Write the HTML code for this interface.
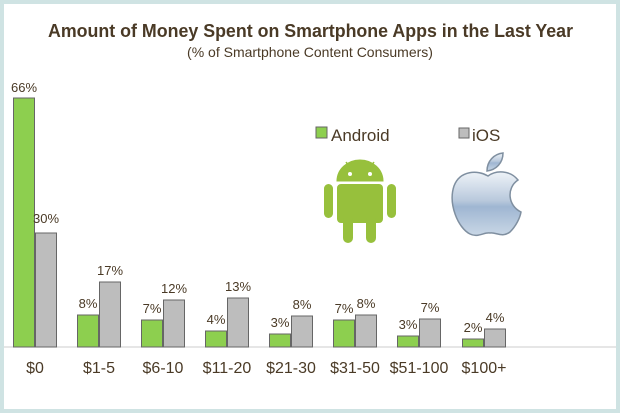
<!DOCTYPE html>
<html><head><style>
body{margin:0;background:#cfe3e3;}
svg{display:block}
text{font-family:"Liberation Sans",sans-serif;fill:#4a3a26}
</style></head><body>
<svg width="620" height="413" viewBox="0 0 620 413" xmlns="http://www.w3.org/2000/svg">
<defs>
<linearGradient id="ap" x1="0" y1="0" x2="0" y2="1">
<stop offset="0" stop-color="#eef3f8"/><stop offset="0.45" stop-color="#b9c9dc"/><stop offset="0.55" stop-color="#9fb6d2"/><stop offset="1" stop-color="#c9d7e6"/>
</linearGradient>
</defs>
<rect x="0" y="0" width="620" height="413" fill="#cfe3e3"/>
<rect x="4" y="4" width="612" height="405" fill="#fff"/>
<text x="48" y="37" font-size="18" font-weight="bold" textLength="525" lengthAdjust="spacingAndGlyphs">Amount of Money Spent on Smartphone Apps in the Last Year</text>
<text x="310" y="57" font-size="14" text-anchor="middle">(% of Smartphone Content Consumers)</text>
<line x1="4" y1="347" x2="616" y2="347" stroke="#ccc" stroke-width="1"/>
<g stroke="#666" stroke-width="1">
<rect x="13.5" y="98" width="21" height="249" fill="#8dcf4f"/><rect x="35.5" y="233" width="21" height="114" fill="#bdbdbd"/>
<rect x="77.5" y="315" width="21" height="32" fill="#8dcf4f"/><rect x="99.5" y="282" width="21" height="65" fill="#bdbdbd"/>
<rect x="141.5" y="320" width="21" height="27" fill="#8dcf4f"/><rect x="163.5" y="300" width="21" height="47" fill="#bdbdbd"/>
<rect x="205.5" y="331" width="21" height="16" fill="#8dcf4f"/><rect x="227.5" y="298" width="21" height="49" fill="#bdbdbd"/>
<rect x="269.5" y="334" width="21" height="13" fill="#8dcf4f"/><rect x="291.5" y="316" width="21" height="31" fill="#bdbdbd"/>
<rect x="333.5" y="320" width="21" height="27" fill="#8dcf4f"/><rect x="355.5" y="315" width="21" height="32" fill="#bdbdbd"/>
<rect x="397.5" y="336" width="21" height="11" fill="#8dcf4f"/><rect x="419.5" y="319" width="21" height="28" fill="#bdbdbd"/>
<rect x="462.5" y="339" width="21" height="8" fill="#8dcf4f"/><rect x="484.5" y="329" width="21" height="18" fill="#bdbdbd"/>
</g>
<g font-size="13" text-anchor="middle">
<text x="24" y="92">66%</text><text x="46" y="223">30%</text>
<text x="88" y="308">8%</text><text x="110" y="275">17%</text>
<text x="152" y="313">7%</text><text x="174" y="293">12%</text>
<text x="216" y="324">4%</text><text x="238" y="291">13%</text>
<text x="280" y="327">3%</text><text x="302" y="309">8%</text>
<text x="344" y="313">7%</text><text x="366" y="308">8%</text>
<text x="408" y="329">3%</text><text x="430" y="312">7%</text>
<text x="473" y="332">2%</text><text x="495" y="322">4%</text>
</g>
<g font-size="16" text-anchor="middle">
<text x="35" y="373">$0</text><text x="99" y="373">$1-5</text><text x="163" y="373">$6-10</text><text x="227" y="373">$11-20</text>
<text x="291" y="373">$21-30</text><text x="355" y="373">$31-50</text><text x="419" y="373">$51-100</text><text x="484" y="373">$100+</text>
</g>
<rect x="316" y="127" width="11" height="11" fill="#8dcf4f" stroke="#666"/>
<text x="331" y="141" font-size="17">Android</text>
<rect x="459" y="128" width="10" height="10" fill="#bdbdbd" stroke="#666"/>
<text x="472" y="141" font-size="17">iOS</text>
<g fill="#97c03c" stroke="#97c03c">
<path d="M337 181 A23 21 0 0 1 383 181 Z"/>
<line x1="346" y1="162" x2="351" y2="169" stroke-width="1.5"/><line x1="374" y1="162" x2="369" y2="169" stroke-width="1.5"/>
<rect x="337" y="184" width="46" height="39" rx="4" stroke="none"/>
<rect x="324" y="184" width="9" height="34" rx="4.5" stroke="none"/><rect x="387" y="184" width="9" height="34" rx="4.5" stroke="none"/>
<rect x="343" y="215" width="10" height="28" rx="5" stroke="none"/><rect x="366" y="215" width="10" height="28" rx="5" stroke="none"/>
</g>
<circle cx="350" cy="174" r="2" fill="#fff"/><circle cx="370" cy="174" r="2" fill="#fff"/>
<path d="M488 176 C478 170 460 170 454 186 C448 204 458 228 470 234 C478 238 484 232 490 233 C496 232 502 238 510 232 C516 226 520 218 521 212 C508 206 506 188 518 180 C510 170 496 170 488 176 Z" fill="url(#ap)" stroke="#7f8fa0" stroke-width="1.5"/>
<path d="M487 171 C487 161 494 154 503 153 C503 163 496 170 487 171 Z" fill="url(#ap)" stroke="#7f8fa0" stroke-width="1.5"/>
</svg>
</body></html>
